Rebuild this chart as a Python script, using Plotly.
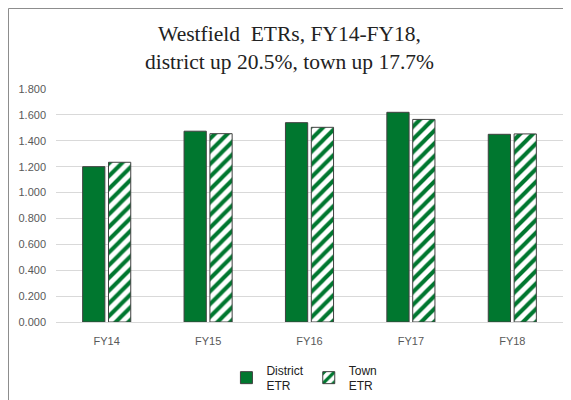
import plotly.graph_objects as go

# data
years = ["FY14", "FY15", "FY16", "FY17", "FY18"]
district_etr = [1.200, 1.474, 1.540, 1.620, 1.450]
town_etr = [1.234, 1.455, 1.504, 1.565, 1.453]
y_ticks = [0, 0.2, 0.4, 0.6, 0.8, 1.0, 1.2, 1.4, 1.6, 1.8]

green = "#00772f"
edge = "#404040"

fig = go.Figure()
fig.add_trace(go.Bar(
    x=years, y=district_etr, name="District<br>ETR",
    marker=dict(color=green, line=dict(color=edge, width=1)),
))
fig.add_trace(go.Bar(
    x=years, y=town_etr, name="Town<br>ETR",
    marker=dict(
        color="white",
        line=dict(color=edge, width=1),
        pattern=dict(shape="/", fgcolor=green, bgcolor="white",
                     size=9, solidity=0.45, fillmode="replace"),
    ),
))

# the page body has an 8px margin, so the figure is a bit smaller and shifted
fig.update_layout(
    width=563, height=392,
    margin=dict(l=48, r=8, t=81, b=78, autoexpand=False),
    paper_bgcolor="white", plot_bgcolor="white",
    barmode="group", bargap=0.49, bargroupgap=0.14,
    title=dict(
        text="Westfield  ETRs, FY14-FY18,<br>district up 20.5%, town up 17.7%",
        x=0.5, xanchor="center", y=0.915, yanchor="middle",
        font=dict(family="Liberation Serif, DejaVu Serif, serif", size=21.5, color="#222222"),
    ),
    showlegend=True,
    legend=dict(
        orientation="h", x=0.49, xanchor="center", y=0.056, yanchor="middle",
        yref="container",
        font=dict(family="Liberation Sans, Arial, sans-serif", size=12, color="#222222"),
        itemwidth=30, tracegroupgap=0,
    ),
    shapes=[dict(
        type="rect", xref="paper", yref="paper",
        x0=-0.0937, x1=1.1, y0=-0.6, y1=1.3455,
        line=dict(color="#8c8c8c", width=1), fillcolor="rgba(0,0,0,0)", layer="below",
    )],
)

fig.update_yaxes(
    range=[0, 1.8], tickvals=y_ticks, tickformat=".3f", automargin=False,
    showgrid=True, gridcolor="#d9d9d9", gridwidth=1,
    zeroline=False, showline=False, ticks="", ticklabelstandoff=9,
    tickfont=dict(family="Liberation Sans, Arial, sans-serif", size=11, color="#595959"),
)
fig.update_xaxes(
    showline=True, linecolor="#d9d9d9", linewidth=1, ticks="", automargin=False,
    ticklabelstandoff=9,
    tickfont=dict(family="Liberation Sans, Arial, sans-serif", size=11, color="#595959"),
)

fig.write_html("out.html")
